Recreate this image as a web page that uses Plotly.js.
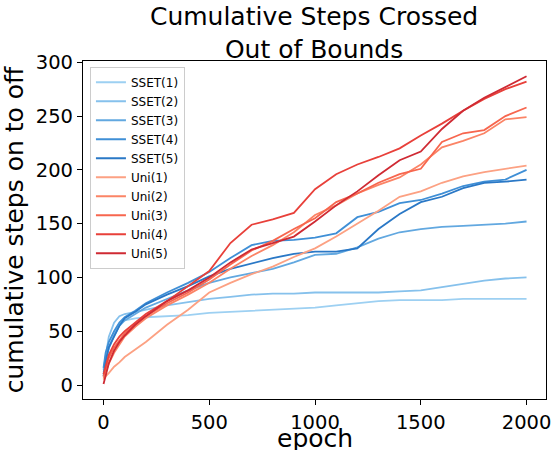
<!DOCTYPE html>
<html>
<head>
<meta charset="utf-8">
<script src="https://cdn.plot.ly/plotly-3.0.1.min.js"></script>
<style>
  html, body { margin: 0; padding: 0; background: #ffffff; }
  #chart { width: 552px; height: 450px; }
</style>
</head>
<body>
<div id="chart"></div>
<script>
const epochs = [0,10,25,50,75,100,150,200,300,400,500,600,700,800,900,1000,1100,1200,1300,1400,1500,1600,1700,1800,1900,2000];

const sset1 = [12,22,35,48,57,60,62,63,64,65,67,68,69,70,71,72,74,76,78,79,79,79,80,80,80,80];
const sset2 = [14,28,45,58,64,66,68,70,74,77,80,82,84,85,85,86,86,86,86,87,88,91,94,97,99,100];
const sset3 = [10,22,34,46,55,60,66,72,80,88,95,100,104,108,114,121,122,128,136,142,145,147,148,149,150,152];
const sset4 = [16,30,40,50,58,63,69,76,86,95,105,118,130,134,135,137,141,156,161,169,172,178,185,189,191,200];
const sset5 = [8,22,35,45,55,62,68,75,84,92,101,108,113,118,122,124,124,127,145,159,170,175,183,188,189,191];

const uni1 = [5,8,11,17,21,26,33,40,56,70,86,95,103,110,119,127,138,150,162,175,180,188,194,198,201,204];
const uni2 = [6,12,20,30,38,45,54,62,74,84,95,108,120,130,142,158,167,178,186,193,205,221,227,234,247,249];
const uni3 = [8,15,25,35,42,48,56,64,76,86,98,112,125,134,145,155,170,178,188,196,201,226,234,237,250,258];
const uni4 = [10,18,28,38,45,50,58,66,78,92,106,132,149,154,160,182,196,205,212,220,232,243,255,266,275,282];
const uni5 = [1,8,20,32,40,46,56,64,78,88,100,114,126,132,138,152,167,180,195,209,217,238,255,267,277,287];

const seriesNames = ["SSET(1)","SSET(2)","SSET(3)","SSET(4)","SSET(5)","Uni(1)","Uni(2)","Uni(3)","Uni(4)","Uni(5)"];
const seriesValues = [sset1, sset2, sset3, sset4, sset5, uni1, uni2, uni3, uni4, uni5];
const seriesColors = ["#9dd0f2","#86c1ec","#62a8e0","#3f8fd6","#2a78c6","#fca183","#fb8466","#f7664e","#e8403a","#cf2a33"];

const xTicks = [0,500,1000,1500,2000];
const yTicks = [0,50,100,150,200,250,300];

const traces = seriesNames.map((name, i) => ({
  type: "scatter",
  mode: "lines",
  name: name,
  x: epochs,
  y: seriesValues[i],
  line: { color: seriesColors[i], width: 1.8 }
}));

const layout = {
  width: 552,
  height: 450,
  margin: { l: 83, r: 6, t: 61, b: 51 },
  paper_bgcolor: "#ffffff",
  plot_bgcolor: "#ffffff",
  font: { family: "DejaVu Sans, sans-serif", color: "#000000" },
  showlegend: true,
  title: {
    text: "Cumulative Steps Crossed<br>Out of Bounds",
    font: { size: 25, color: "#000000" },
    x: 0.569, xanchor: "center",
    yref: "container", y: 0.944, yanchor: "middle"
  },
  xaxis: {
    range: [-97, 2092],
    tickvals: xTicks,
    ticktext: xTicks.map(String),
    ticks: "outside", ticklen: 5, tickwidth: 1, tickcolor: "#000",
    showline: true, linecolor: "#000", linewidth: 1.1, mirror: true,
    showgrid: false, zeroline: false,
    tickfont: { size: 19.5, color: "#000" }
  },
  yaxis: {
    range: [-13, 301.2],
    tickvals: yTicks,
    ticktext: yTicks.map(String),
    ticks: "outside", ticklen: 5, tickwidth: 1, tickcolor: "#000",
    showline: true, linecolor: "#000", linewidth: 1.1, mirror: true,
    showgrid: false, zeroline: false,
    tickfont: { size: 19.5, color: "#000" },
    title: { text: "cumulative steps on to off", font: { size: 25, color: "#000" }, standoff: 6 }
  },
  annotations: [{
    text: "epoch",
    xref: "paper", yref: "paper",
    x: 0.5, y: -0.118, xanchor: "center", yanchor: "middle",
    showarrow: false,
    font: { size: 25, color: "#000" }
  }],
  legend: {
    x: 0.015, y: 0.983, xanchor: "left", yanchor: "top",
    bgcolor: "rgba(255,255,255,0.8)",
    bordercolor: "#cccccc", borderwidth: 1,
    font: { size: 12, color: "#000" },
    tracegroupgap: 0
  }
};

Plotly.newPlot("chart", traces, layout, { displayModeBar: false, staticPlot: true });
</script>
</body>
</html>
